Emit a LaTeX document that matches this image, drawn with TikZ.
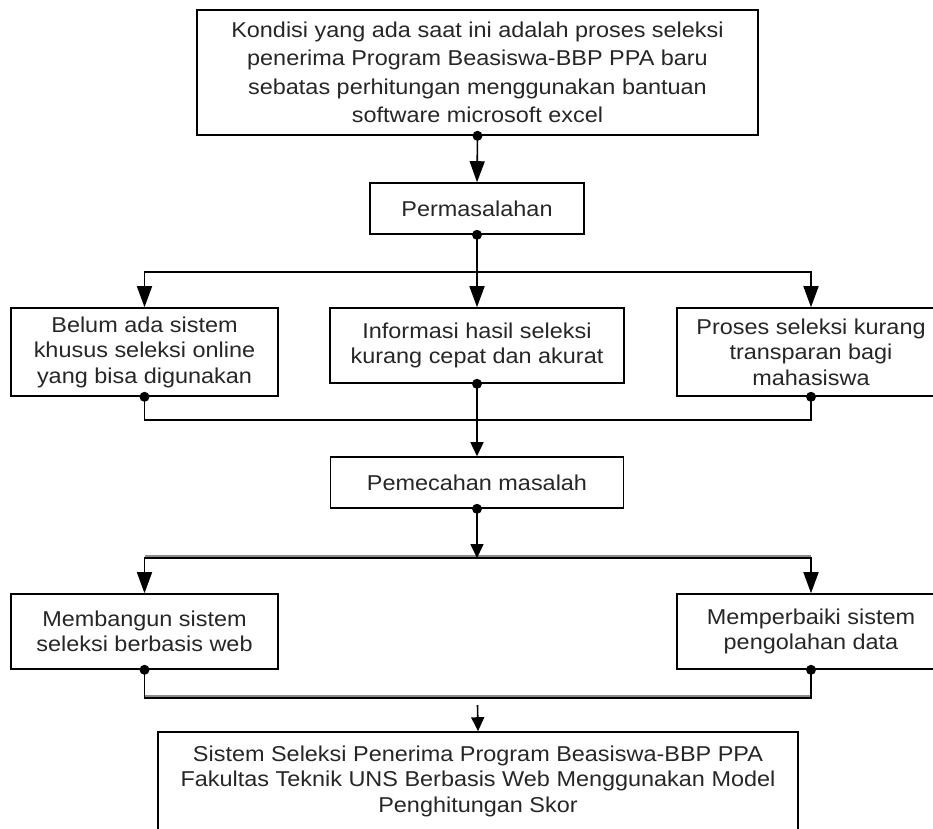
\documentclass[tikz,border=0pt]{standalone}
\usepackage{fontspec}
\setmainfont{Liberation Sans}[FakeStretch=1.09]
\usetikzlibrary{arrows.meta}
\tikzset{
  box/.style={draw=black, line width=1.6pt, inner sep=0pt, align=center,
    text=black!85, font=\fontsize{21.5}{25.5}\selectfont},
  conn/.style={draw=black, line width=1.6pt},
  bigarrow/.style={conn, -{Triangle[length=21pt,width=15pt]}},
  smallarrow/.style={conn, -{Triangle[length=14pt,width=13pt]}},
  dot/.style={circle, fill=black, inner sep=0pt, minimum size=10pt},
  shadowline/.style={draw=black!45, line width=1.8pt},
}
\begin{document}
\begin{tikzpicture}[x=1pt,y=-1pt]
\useasboundingbox (0,0) rectangle (933,828);
\clip (0,0) rectangle (933,828);

\node[box, minimum width=561pt, minimum height=125pt,
  font=\fontsize{21.5}{28.5}\selectfont] (top) at (477.5,72.5)
  {Kondisi yang ada saat ini adalah proses seleksi\\
   penerima Program Beasiswa-BBP PPA baru\\
   sebatas perhitungan menggunakan bantuan\\
   software microsoft excel};

\node[box, minimum width=214pt, minimum height=51pt] (perm) at (477,208.5) {Permasalahan};

\node[box, minimum width=267pt, minimum height=88pt] (b1) at (144.5,352)
  {Belum ada sistem\\khusus seleksi online\\yang bisa digunakan};
\node[box, minimum width=294pt, minimum height=75pt] (b2) at (477,345.5)
  {Informasi hasil seleksi\\kurang cepat dan akurat};
\node[box, minimum width=268pt, minimum height=88pt] (b3) at (811,352)
  {Proses seleksi kurang\\transparan bagi\\mahasiswa};

\node[box, minimum width=293pt, minimum height=51pt] (pem) at (477,482.5) {Pemecahan masalah};

\node[box, minimum width=267pt, minimum height=75pt] (c1) at (144.5,631.5)
  {Membangun sistem\\seleksi berbasis web};
\node[box, minimum width=268pt, minimum height=75pt] (c2) at (811,631.5)
  {Memperbaiki sistem\\pengolahan data};

\node[box, minimum width=640pt, minimum height=98pt] (bot) at (478,781)
  {Sistem Seleksi Penerima Program Beasiswa-BBP PPA\\
   Fakultas Teknik UNS Berbasis Web Menggunakan Model\\
   Penghitungan Skor};

\coordinate (j1) at (477,272);
\coordinate (j2) at (477,420);
\coordinate (j3) at (477,558);
\coordinate (j4) at (477,698);
\coordinate (f) at (477.5,705);

% top -> Permasalahan
\draw[bigarrow] (top.south) -- (perm.north);
% Permasalahan -> three problems
\draw[bigarrow] (perm.south) -- (b2.north);
\draw[bigarrow] (j1) -| (b1.north);
\draw[bigarrow] (j1) -| (b3.north);
% problems -> Pemecahan
\draw[conn] (b1.south) |- (j2) -| (b3.south);
\draw[smallarrow] (b2.south) -- (pem.north);
% Pemecahan -> solutions
\draw[shadowline] ([yshift=2pt]c1.north |- j3) -- ([yshift=2pt]c2.north |- j3);
\draw[smallarrow] (pem.south) -- (j3);
\draw[conn] (c1.north |- j3) -- (c2.north |- j3);
\draw[bigarrow] (j3) -| (c1.north);
\draw[bigarrow] (j3) -| (c2.north);
% solutions -> result
\draw[shadowline] ([yshift=2pt]c1.south |- j4) -- ([yshift=2pt]c2.south |- j4);
\draw[conn] (c1.south) |- (j4) -| (c2.south);
\draw[smallarrow] (f) -- (bot.north);

% dots
\node[dot] (d0) at (top.south) {};
\node[dot] (d1) at (perm.south) {};
\node[dot] (d2) at (b1.south) {};
\node[dot] (d3) at (b2.south) {};
\node[dot] (d4) at (b3.south) {};
\node[dot] (d5) at (pem.south) {};
\node[dot] (d6) at (c1.south) {};
\node[dot] (d7) at (c2.south) {};
\end{tikzpicture}
\end{document}
